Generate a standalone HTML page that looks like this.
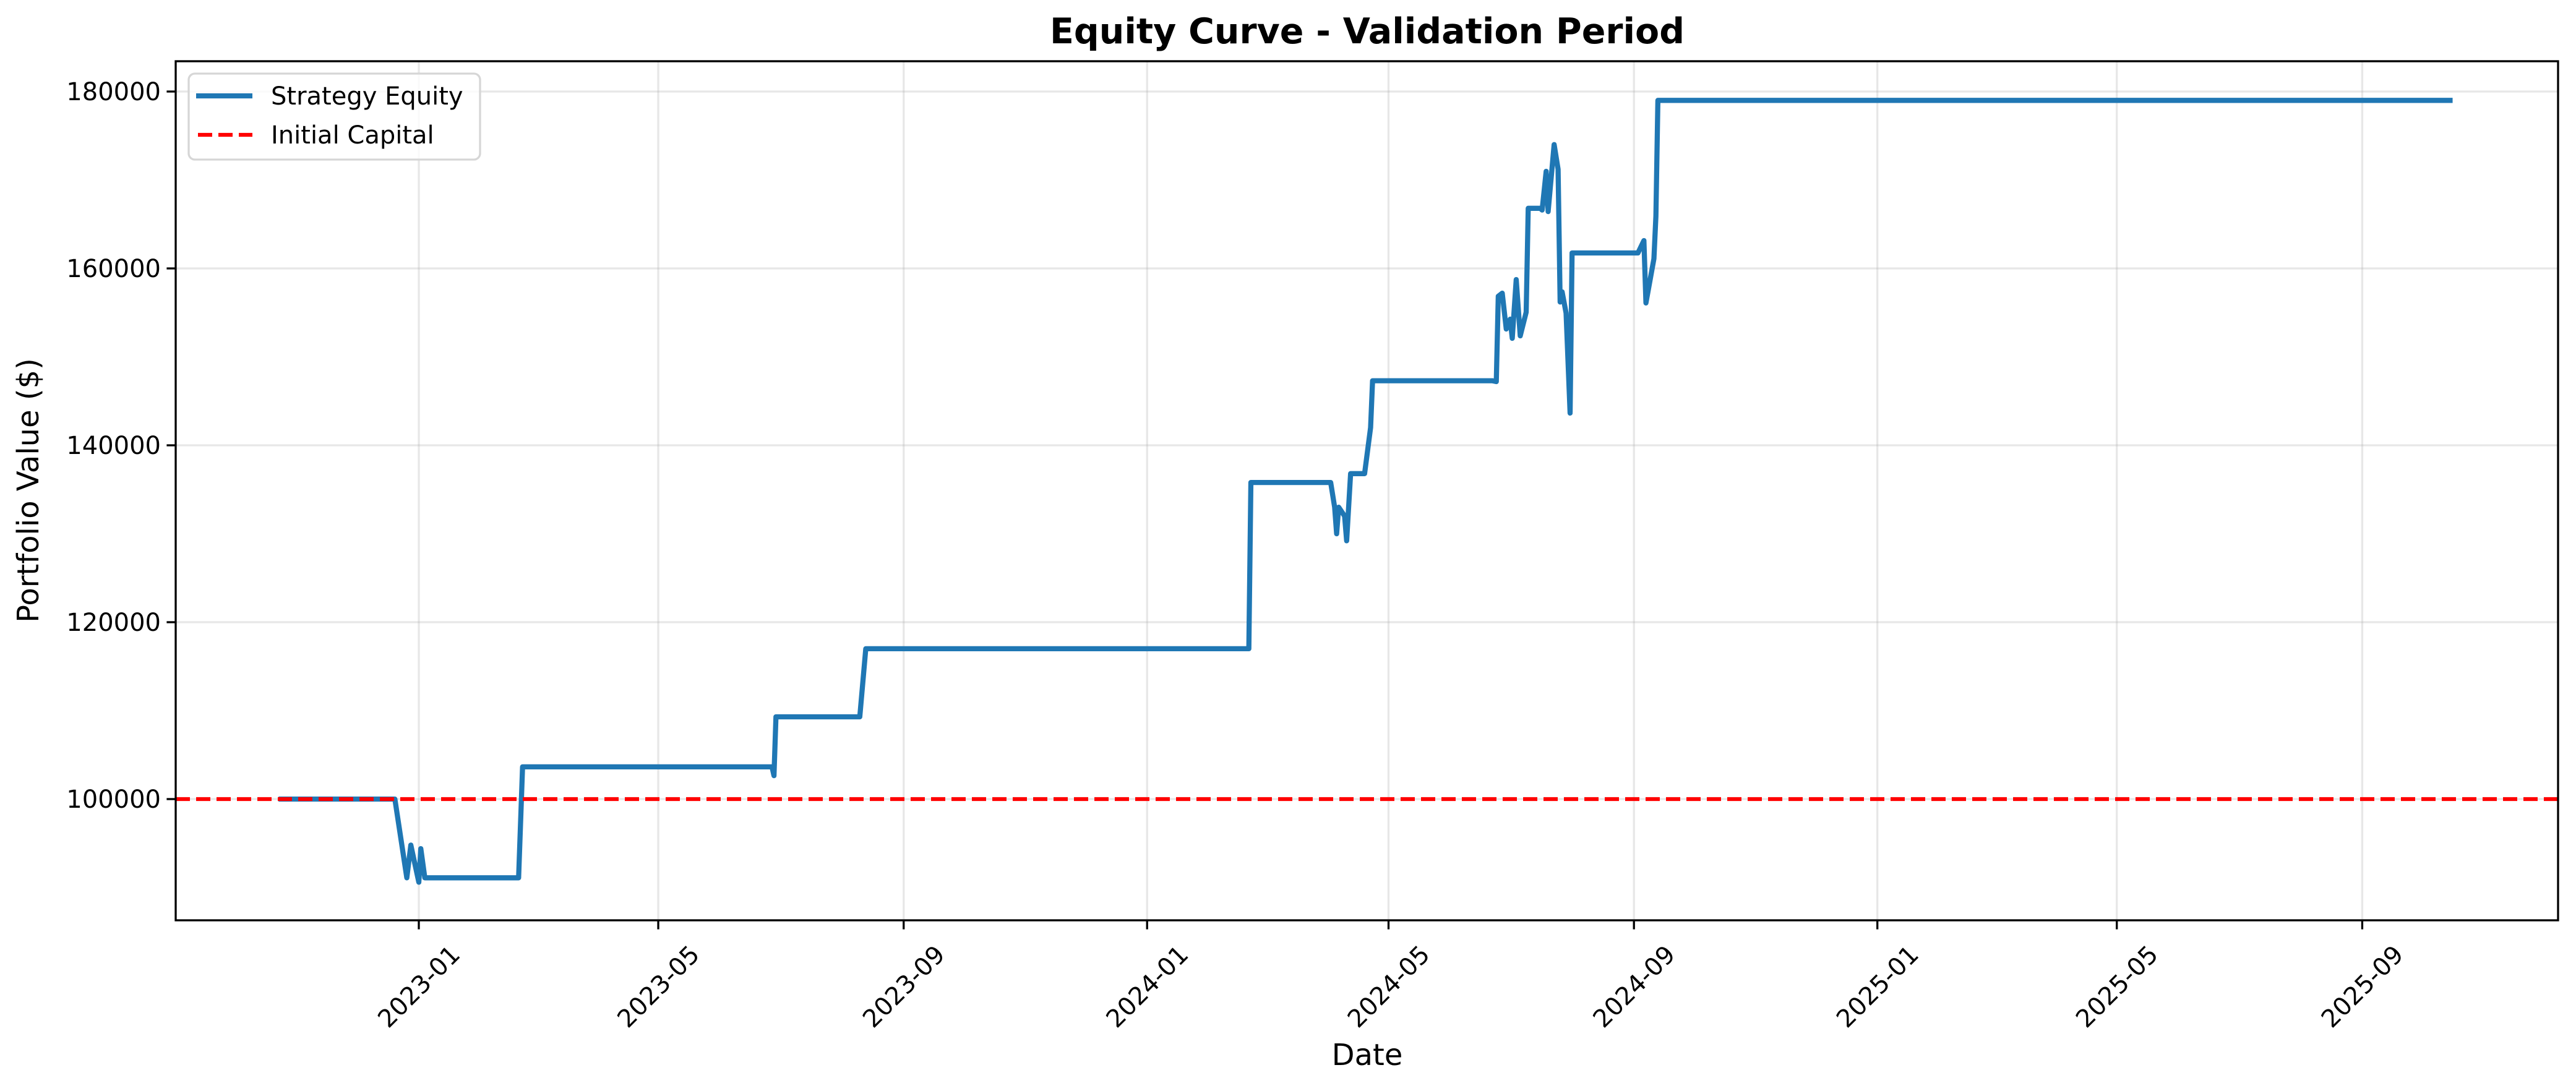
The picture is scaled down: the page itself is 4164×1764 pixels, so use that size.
<!DOCTYPE html>
<html><head><meta charset="utf-8"><style>
html,body{margin:0;padding:0;background:#fff}
svg{display:block;font-family:"DejaVu Sans","Liberation Sans",sans-serif}
</style></head><body>
<svg id="chart" width="4164" height="1764" viewBox="0 0 4164 1764" xmlns="http://www.w3.org/2000/svg">
<rect width="4164" height="1764" fill="#fff"/>
<g id="grid"></g>
<g id="series"></g>
<g id="axes"></g>
<text x="2210" y="70" text-anchor="middle" font-size="57" font-weight="bold">Equity Curve - Validation Period</text>
<text x="2210" y="1722" text-anchor="middle" font-size="48">Date</text>
<text transform="translate(62,793) rotate(-90)" text-anchor="middle" font-size="48">Portfolio Value ($)</text>
<g>
<rect x="305" y="119" width="471" height="139" rx="10" fill="#fff" fill-opacity="0.8" stroke="#d6d6d6" stroke-width="3.3"/>
<line x1="317" y1="155" x2="408" y2="155" stroke="#1f77b4" stroke-width="8.3"/>
<text x="438" y="169" font-size="40">Strategy Equity</text>
<line x1="320" y1="218" x2="408" y2="218" stroke="#ff0000" stroke-width="6.25" stroke-dasharray="23,10"/>
<text x="438" y="232" font-size="40">Initial Capital</text>
</g>
</svg>
<script>
const dates = ["2022-10-24","2022-12-20","2022-12-26","2022-12-28","2023-01-01","2023-01-02","2023-01-04","2023-02-20","2023-02-22","2023-06-27","2023-06-28","2023-06-29","2023-08-10","2023-08-13","2024-02-21","2024-02-22","2024-04-02","2024-04-04","2024-04-05","2024-04-06","2024-04-09","2024-04-10","2024-04-12","2024-04-19","2024-04-22","2024-04-23","2024-06-22","2024-06-24","2024-06-25","2024-06-27","2024-06-29","2024-07-01","2024-07-02","2024-07-04","2024-07-06","2024-07-09","2024-07-10","2024-07-16","2024-07-17","2024-07-19","2024-07-20","2024-07-23","2024-07-25","2024-07-26","2024-07-27","2024-07-29","2024-07-31","2024-08-01","2024-09-03","2024-09-06","2024-09-07","2024-09-11","2024-09-12","2024-09-13","2025-10-15"];
const equity = [100000,100000,91100,94800,90600,94400,91100,91100,103640,103640,102650,109300,109300,117000,117000,135800,135800,133000,130000,133000,132000,129200,136800,136800,142000,147300,147300,147200,156850,157200,153150,154260,152100,158740,152380,155050,166800,166800,166600,170980,166430,174000,171200,156200,157340,154960,143640,161750,161750,163150,156100,161100,165900,179000,179000];
const initialCapital = [100000];
const yTicks = [100000,120000,140000,160000,180000];
const xTicks = ["2023-01","2023-05","2023-09","2024-01","2024-05","2024-09","2025-01","2025-05","2025-09"];

const L=284,R=4135,T=99,B=1488;
const NS="http://www.w3.org/2000/svg";
const d0=Date.UTC(2023,0,1);
function dayOf(s){const p=s.split("-");return (Date.UTC(+p[0],+p[1]-1,p[2]?+p[2]:1)-d0)/86400000;}
function xs(s){return 677+dayOf(s)*3.2253;}
function ys(v){return 1292-(v-100000)*0.0143;}
function mk(tag,attrs,parent){const e=document.createElementNS(NS,tag);for(const k in attrs)e.setAttribute(k,attrs[k]);parent.appendChild(e);return e;}
const grid=document.getElementById("grid"),series=document.getElementById("series"),axes=document.getElementById("axes");

yTicks.forEach(v=>{
  const y=ys(v);
  const g=mk("line",{x1:L,x2:R,y1:y,y2:y,stroke:"#b0b0b0","stroke-opacity":"0.3","stroke-width":"3.3"},grid);
  
  
  const t=mk("line",{x1:L-14.6,x2:L,y1:y,y2:y,stroke:"#000","stroke-width":"3.3"},axes);
  
  
  const tx=mk("text",{x:L-24,y:y+14,"text-anchor":"end","font-size":"40"},axes);
  tx.textContent=String(v);
  
  
});
xTicks.forEach(s=>{
  const x=xs(s);
  const g=mk("line",{x1:x,x2:x,y1:T,y2:B,stroke:"#b0b0b0","stroke-opacity":"0.3","stroke-width":"3.3"},grid);
  
  
  const t=mk("line",{x1:x,x2:x,y1:B,y2:B+14.6,stroke:"#000","stroke-width":"3.3"},axes);
  
  
  const tx=mk("text",{transform:"translate("+x+",1595) rotate(-45)","text-anchor":"middle","font-size":"40",dy:"14"},axes);
  tx.textContent=s;
  
  
});
const pts=dates.map((d,i)=>xs(d).toFixed(1)+","+ys(equity[i]).toFixed(1)).join(" ");
const line=mk("polyline",{points:pts,fill:"none",stroke:"#1f77b4","stroke-width":"8.3","stroke-linejoin":"round","stroke-linecap":"square"},series);


const hl=mk("line",{x1:L,x2:R,y1:ys(initialCapital[0]),y2:ys(initialCapital[0]),stroke:"#ff0000","stroke-width":"6.25","stroke-dasharray":"23,10"},series);


const frame=mk("rect",{x:L,y:T,width:R-L,height:B-T,fill:"none",stroke:"#000","stroke-width":"3.3"},axes);


</script>
</body></html>
